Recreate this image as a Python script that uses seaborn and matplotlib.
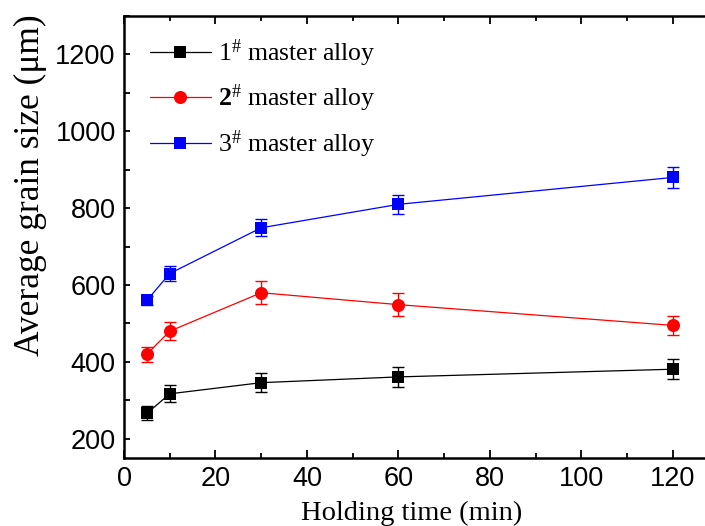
import numpy as np
import pandas as pd
import matplotlib
matplotlib.use("Agg")
import matplotlib.pyplot as plt
from matplotlib.lines import Line2D
from matplotlib.ticker import MultipleLocator
import seaborn as sns

# ---- data ----
time_min = [5, 10, 30, 60, 120]
alloy1 = [266, 317, 346, 361, 381]
alloy2 = [420, 480, 580, 549, 495]
alloy3 = [560, 630, 749, 810, 880]
err1 = [18, 22, 25, 26, 26]
err2 = [20, 24, 30, 29, 25]
err3 = [12, 19, 22, 25, 27]
labels = [r"$\mathregular{1^{\#}}$ master alloy",
          r"$\mathbf{2}^{\#}$ master alloy",
          r"$\mathregular{3^{\#}}$ master alloy"]
colors = ["#000000", "#ff0000", "#0000ff"]
markers = ["s", "o", "s"]
msizes = [8.4, 9.4, 8.4]
x_ticks = [0, 20, 40, 60, 80, 100, 120]
y_ticks = [200, 400, 600, 800, 1000, 1200]

sns.set_style("ticks")
plt.rcParams["font.family"] = ["Liberation Sans", "DejaVu Sans"]
plt.rcParams["mathtext.fontset"] = "custom"
plt.rcParams["mathtext.rm"] = "Liberation Serif"
plt.rcParams["mathtext.it"] = "Liberation Serif:italic"
plt.rcParams["mathtext.bf"] = "Liberation Serif:bold"
for k in ["text.color", "axes.labelcolor", "xtick.color", "ytick.color", "axes.edgecolor"]:
    plt.rcParams[k] = "black"

df = pd.DataFrame({
    "time": time_min * 3,
    "size": alloy1 + alloy2 + alloy3,
    "alloy": [labels[0]] * 5 + [labels[1]] * 5 + [labels[2]] * 5,
})

fig = plt.figure(figsize=(7.05, 5.26), dpi=100)
ax = fig.add_axes([124 / 705, 68 / 526, 0.8436, 442 / 526])

errs = [err1, err2, err3]
vals = [alloy1, alloy2, alloy3]
for v, e, c in zip(vals, errs, colors):
    ax.errorbar(time_min, v, yerr=e, fmt="none", ecolor=c, elinewidth=1.0,
                capsize=4.5, capthick=1.0, zorder=2)

for lab, c, m, ms in zip(labels, colors, markers, msizes):
    sub = df[df["alloy"] == lab]
    sns.lineplot(data=sub, x="time", y="size", color=c, marker=m,
                 markersize=ms, markeredgewidth=0, linewidth=0.9,
                 ax=ax, legend=False, zorder=3)

ax.set_xlim(0, 130)
ax.set_ylim(150, 1300)
ax.set_xticks(x_ticks)
ax.set_yticks(y_ticks)
ax.xaxis.set_minor_locator(MultipleLocator(10))
ax.yaxis.set_minor_locator(MultipleLocator(100))
ax.tick_params(axis="both", which="both", direction="in", top=True, right=False,
               width=1.3, labelsize=19.5, pad=6)
ax.tick_params(axis="x", which="major", length=6)
ax.tick_params(axis="x", which="minor", length=3.5)
ax.tick_params(axis="y", which="major", length=4.5)
ax.tick_params(axis="y", which="minor", length=4)
for s in ax.spines.values():
    s.set_linewidth(1.8)
ax.spines["right"].set_visible(False)

ax.set_xlabel("Holding time (min)", family=["Liberation Serif"], fontsize=20.5, labelpad=5)
ax.xaxis.set_label_coords(0.484, -0.098)
ax.xaxis.label.set_va("top")
ax.set_ylabel("Average grain size (\u03bcm)", family=["Liberation Serif"], fontsize=25.5)
ax.yaxis.set_label_coords(-0.129, 0.618)

handles = [Line2D([], [], color=c, marker=m, markersize=ms, markeredgewidth=0, linewidth=0.9)
           for c, m, ms in zip(colors, markers, msizes)]
leg = ax.legend(handles, labels, loc="upper left", bbox_to_anchor=(0.044, 0.952),
                frameon=False, borderpad=0, borderaxespad=0,
                handlelength=2.35, handletextpad=0.3, labelspacing=0.55,
                prop={"family": "Liberation Serif", "size": 18.5})

fig.savefig("out.png", dpi=100)
